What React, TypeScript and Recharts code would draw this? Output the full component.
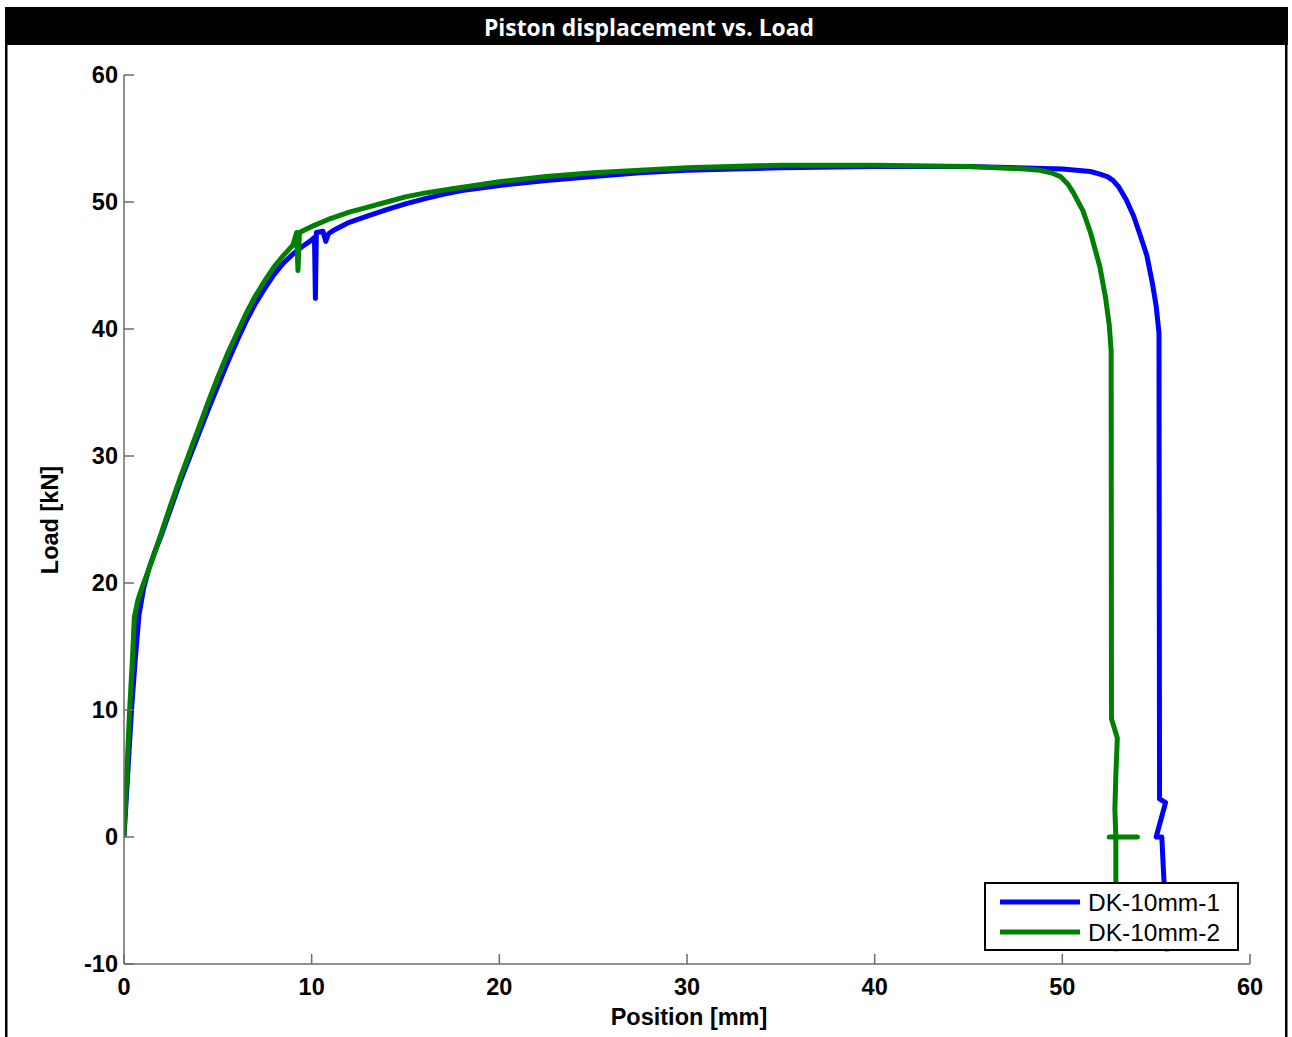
import React from 'react';
import { LineChart, Line, XAxis, YAxis, Legend } from 'recharts';

const xTicks = [0, 10, 20, 30, 40, 50, 60];
const yTicks = [-10, 0, 10, 20, 30, 40, 50, 60];

const blueSeries = [
  { x: 0, y: 0 }, { x: 0.2, y: 5 }, { x: 0.4, y: 10 }, { x: 0.6, y: 14 }, { x: 0.8, y: 17.5 },
  { x: 1.05, y: 19.6 }, { x: 1.3, y: 21 }, { x: 1.6, y: 22.3 }, { x: 2, y: 23.8 }, { x: 2.5, y: 25.9 },
  { x: 3, y: 28 }, { x: 3.5, y: 29.9 }, { x: 4, y: 31.8 }, { x: 4.5, y: 33.7 }, { x: 5, y: 35.5 },
  { x: 5.5, y: 37.3 }, { x: 6, y: 39 }, { x: 6.5, y: 40.6 }, { x: 7, y: 42 }, { x: 7.5, y: 43.2 },
  { x: 8, y: 44.3 }, { x: 8.5, y: 45.2 }, { x: 9, y: 45.9 }, { x: 9.5, y: 46.5 }, { x: 9.9, y: 46.9 },
  { x: 10.15, y: 47.2 }, { x: 10.2, y: 42.4 }, { x: 10.25, y: 47.6 }, { x: 10.6, y: 47.7 },
  { x: 10.75, y: 46.9 }, { x: 10.9, y: 47.5 }, { x: 11.2, y: 47.8 }, { x: 12, y: 48.4 },
  { x: 13, y: 48.9 }, { x: 14, y: 49.4 }, { x: 15, y: 49.85 }, { x: 16, y: 50.25 }, { x: 17, y: 50.6 },
  { x: 18, y: 50.9 }, { x: 20, y: 51.3 }, { x: 22.5, y: 51.7 }, { x: 25, y: 52.0 }, { x: 27.5, y: 52.3 },
  { x: 30, y: 52.5 }, { x: 35, y: 52.7 }, { x: 40, y: 52.8 }, { x: 45, y: 52.8 }, { x: 50, y: 52.6 },
  { x: 51.5, y: 52.4 }, { x: 52, y: 52.2 }, { x: 52.4, y: 52.0 }, { x: 52.7, y: 51.7 }, { x: 53, y: 51.2 },
  { x: 53.4, y: 50.2 }, { x: 53.8, y: 48.9 }, { x: 54.1, y: 47.6 }, { x: 54.5, y: 45.8 },
  { x: 54.8, y: 43.6 }, { x: 55.0, y: 41.8 }, { x: 55.15, y: 39.7 },
  { x: 55.18, y: 3.0 }, { x: 55.5, y: 2.7 }, { x: 55.0, y: 0 }, { x: 55.3, y: 0 }, { x: 55.6, y: -9 },
];

const greenSeries = [
  { x: 0, y: 0 }, { x: 0.15, y: 5 }, { x: 0.3, y: 10 }, { x: 0.45, y: 14 }, { x: 0.55, y: 17.3 },
  { x: 0.75, y: 18.7 }, { x: 1.0, y: 19.8 }, { x: 1.5, y: 21.8 }, { x: 2, y: 24 }, { x: 2.5, y: 26.2 },
  { x: 3, y: 28.3 }, { x: 3.5, y: 30.3 }, { x: 4, y: 32.3 }, { x: 4.5, y: 34.3 }, { x: 5, y: 36.2 },
  { x: 5.5, y: 38 }, { x: 6, y: 39.6 }, { x: 6.5, y: 41.2 }, { x: 7, y: 42.6 }, { x: 7.5, y: 43.8 },
  { x: 8, y: 44.9 }, { x: 8.5, y: 45.8 }, { x: 9, y: 46.6 },
  { x: 9.2, y: 47.6 }, { x: 9.27, y: 44.6 }, { x: 9.35, y: 47.6 }, { x: 9.75, y: 47.9 },
  { x: 10.05, y: 48.1 }, { x: 11, y: 48.7 }, { x: 12, y: 49.2 }, { x: 13, y: 49.6 }, { x: 14, y: 50.0 },
  { x: 15, y: 50.4 }, { x: 16, y: 50.7 }, { x: 17.5, y: 51.05 }, { x: 20, y: 51.6 }, { x: 22.5, y: 52.0 },
  { x: 25, y: 52.3 }, { x: 27.5, y: 52.5 }, { x: 30, y: 52.7 }, { x: 35, y: 52.9 }, { x: 40, y: 52.9 },
  { x: 45, y: 52.8 }, { x: 48, y: 52.6 }, { x: 48.8, y: 52.5 }, { x: 49.4, y: 52.3 }, { x: 49.9, y: 52.0 },
  { x: 50.3, y: 51.4 }, { x: 50.6, y: 50.7 }, { x: 51.1, y: 49.3 }, { x: 51.5, y: 47.6 },
  { x: 52.0, y: 44.9 }, { x: 52.3, y: 42.5 }, { x: 52.5, y: 40.3 }, { x: 52.6, y: 38.3 },
  { x: 52.62, y: 9.3 }, { x: 52.93, y: 7.8 }, { x: 52.85, y: 4.8 }, { x: 52.8, y: 2.2 },
  { x: 52.85, y: 0 }, { x: 52.5, y: 0 }, { x: 54.0, y: 0 }, { x: 52.85, y: 0 }, { x: 52.85, y: -9 },
];

const seriesNames = ['DK-10mm-1', 'DK-10mm-2'];
const seriesColors = ['#0000ff', '#008000'];
const titleText = 'Piston displacement vs. Load';
const xLabel = 'Position [mm]';
const yLabel = 'Load [kN]';

const AXIS_GRAY = '#6b6b6b';
const TICK_FONT = { fontFamily: '"Liberation Sans", Arial, sans-serif', fontSize: 23.5, fontWeight: 700, fill: '#000' };

const XTick = (props: any) => {
  const { x, y, payload } = props;
  return (
    <g>
      <line x1={x} y1={y} x2={x} y2={y - 10} stroke={AXIS_GRAY} strokeWidth={1.5} />
      <text x={x} y={y + 23} textAnchor="middle" dominantBaseline="central" {...TICK_FONT}>
        {payload.value}
      </text>
    </g>
  );
};

const YTick = (props: any) => {
  const { x, y, payload } = props;
  return (
    <g>
      <line x1={x} y1={y} x2={x + 10} y2={y} stroke={AXIS_GRAY} strokeWidth={1.5} />
      <text x={x - 6} y={y} textAnchor="end" dominantBaseline="central" {...TICK_FONT}>
        {payload.value}
      </text>
    </g>
  );
};

const LegendBox = (props: any) => {
  const items = (props.payload || []) as any[];
  return (
    <div
      style={{
        width: 255,
        height: 69,
        boxSizing: 'border-box',
        border: '2px solid #000',
        background: '#fff',
        position: 'relative',
      }}
    >
      <svg width={251} height={65} style={{ position: 'absolute', left: 0, top: 0 }}>
        {items.map((it, i) => (
          <g key={i}>
            <line x1={14} x2={94} y1={18 + i * 30} y2={18 + i * 30} stroke={it.color} strokeWidth={5} />
            <text
              x={102}
              y={18 + i * 30}
              dominantBaseline="central"
              fontFamily='"Liberation Sans", Arial, sans-serif'
              fontSize={24.5}
              fill="#000"
            >
              {it.value}
            </text>
          </g>
        ))}
      </svg>
    </div>
  );
};

export default function App() {
  return (
    <div style={{ position: 'absolute', left: 0, top: 0, width: 1292, height: 1037, background: '#fff', overflow: 'hidden' }}>
      <LineChart
        width={1292}
        height={1037}
        margin={{ top: 75, right: 42, left: 64, bottom: 43 }}
      >
        <XAxis
          type="number"
          dataKey="x"
          domain={[0, 60]}
          ticks={xTicks}
          interval={0}
          allowDataOverflow
          height={30}
          tickSize={0}
          tickMargin={0}
          tickLine={false}
          axisLine={{ stroke: AXIS_GRAY, strokeWidth: 1.5 }}
          tick={<XTick />}
        />
        <YAxis
          type="number"
          dataKey="y"
          domain={[-10, 60]}
          ticks={yTicks}
          interval={0}
          allowDataOverflow
          width={60}
          tickSize={0}
          tickMargin={0}
          tickLine={false}
          axisLine={{ stroke: AXIS_GRAY, strokeWidth: 1.5 }}
          tick={<YTick />}
        />
        <Line
          data={blueSeries}
          dataKey="y"
          name={seriesNames[0]}
          stroke={seriesColors[0]}
          strokeWidth={5}
          dot={false}
          activeDot={false}
          strokeLinejoin="round"
          isAnimationActive={false}
        />
        <Line
          data={greenSeries}
          dataKey="y"
          name={seriesNames[1]}
          stroke={seriesColors[1]}
          strokeWidth={5}
          dot={false}
          activeDot={false}
          strokeLinejoin="round"
          isAnimationActive={false}
        />
        <Legend
          layout="horizontal"
          verticalAlign="middle"
          align="center"
          content={<LegendBox />}
          wrapperStyle={{ position: 'absolute', left: 984, top: 882, width: 255, height: 69, bottom: 'auto', right: 'auto' }}
        />
      </LineChart>
      <svg
        width={1292}
        height={1037}
        style={{ position: 'absolute', left: 0, top: 0, pointerEvents: 'none' }}
      >
        <rect x={5} y={7} width={1283} height={38} fill="#000" />
        <rect x={5} y={7} width={2.5} height={1030} fill="#000" />
        <rect x={1285} y={7} width={2.5} height={1030} fill="#000" />
        <text
          x={649}
          y={27}
          textAnchor="middle"
          dominantBaseline="central"
          fill="#fff"
          fontFamily='"Open Sans", sans-serif'
          fontWeight={700}
          fontSize={23}
          textLength={330}
          lengthAdjust="spacingAndGlyphs"
        >
          {titleText}
        </text>
        <text x={689} y={1017} textAnchor="middle" dominantBaseline="central" {...TICK_FONT}>
          {xLabel}
        </text>
        <text
          x={50}
          y={520}
          textAnchor="middle"
          dominantBaseline="central"
          transform="rotate(-90 50 520)"
          {...TICK_FONT}
        >
          {yLabel}
        </text>
      </svg>
    </div>
  );
}
